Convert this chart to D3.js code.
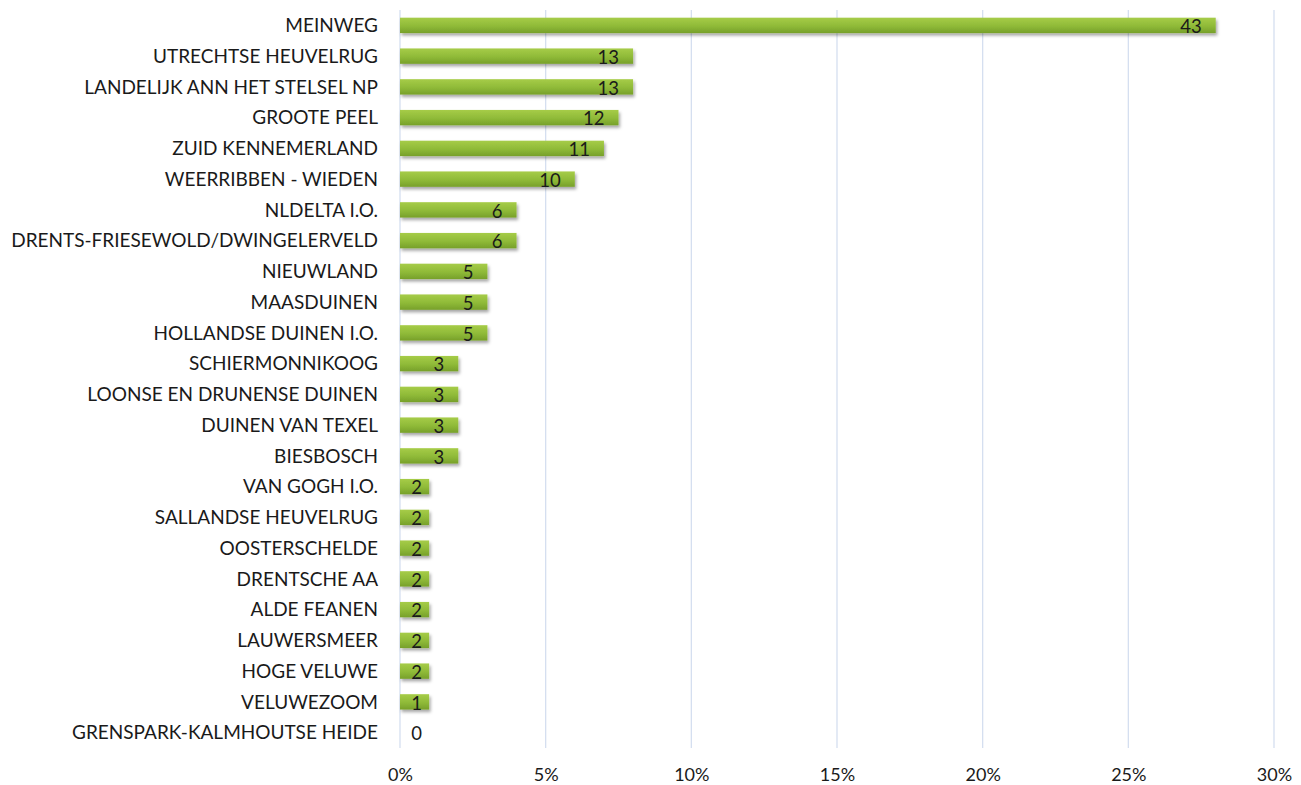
<!DOCTYPE html>
<html>
<head>
<meta charset="utf-8">
<script src="https://cdn.jsdelivr.net/npm/d3@7"></script>
<style>
  body { margin: 0; background: #fff; }
  text { font-family: Lato, "Open Sans", sans-serif; fill: #1a1a1a; }
</style>
</head>
<body>
<svg id="chart"></svg>
<script>
let parks = ["MEINWEG", "UTRECHTSE HEUVELRUG", "LANDELIJK ANN HET STELSEL NP", "GROOTE PEEL",
    "ZUID KENNEMERLAND", "WEERRIBBEN - WIEDEN", "NLDELTA I.O.", "DRENTS-FRIESEWOLD/DWINGELERVELD",
    "NIEUWLAND", "MAASDUINEN", "HOLLANDSE DUINEN I.O.", "SCHIERMONNIKOOG", "LOONSE EN DRUNENSE DUINEN",
    "DUINEN VAN TEXEL", "BIESBOSCH", "VAN GOGH I.O.", "SALLANDSE HEUVELRUG", "OOSTERSCHELDE",
    "DRENTSCHE AA", "ALDE FEANEN", "LAUWERSMEER", "HOGE VELUWE", "VELUWEZOOM", "GRENSPARK-KALMHOUTSE HEIDE"];
let counts = [43, 13, 13, 12, 11, 10, 6, 6, 5, 5, 5, 3, 3, 3, 3, 2, 2, 2, 2, 2, 2, 2, 1, 0];
let percents = [28, 8, 8, 7.5, 7, 6, 4, 4, 3, 3, 3, 2, 2, 2, 2, 1, 1, 1, 1, 1, 1, 1, 1, 0];
let xTicks = [0, 5, 10, 15, 20, 25, 30];

let width = 1301;
let height = 785;
let margin = {top: 10, right: 27, bottom: 37, left: 400};

let svg = d3.select('#chart').attr('width', width).attr('height', height);

let defs = svg.append('defs');
let grad = defs.append('linearGradient').attr('id', 'barGrad')
    .attr('x1', 0).attr('y1', 0).attr('x2', 0).attr('y2', 1);
grad.append('stop').attr('offset', '0%').attr('stop-color', '#a6cc48');
grad.append('stop').attr('offset', '55%').attr('stop-color', '#8fba38');
grad.append('stop').attr('offset', '100%').attr('stop-color', '#77a02a');

let shadow = defs.append('filter').attr('id', 'shadow')
    .attr('x', '-10%').attr('y', '-30%').attr('width', '130%').attr('height', '200%');
shadow.append('feDropShadow').attr('dx', 1.5).attr('dy', 2.5).attr('stdDeviation', 1.5)
    .attr('flood-color', '#000').attr('flood-opacity', 0.35);

let x = d3.scaleLinear().domain([0, 30]).range([margin.left, width - margin.right]);
let y = d3.scaleBand().domain(parks).range([margin.top, height - margin.bottom]).paddingInner(0.5).paddingOuter(0.25);

let rows = parks.map(function (p, i) {
    return {name: p, count: counts[i], pct: percents[i]};
});

// grid lines
svg.append('g').selectAll('line').data(xTicks).enter().append('line')
    .attr('x1', function (d) { return x(d); })
    .attr('x2', function (d) { return x(d); })
    .attr('y1', margin.top)
    .attr('y2', height - margin.bottom)
    .attr('stroke', '#d5dff0')
    .attr('stroke-width', 1.3);

// x axis labels
let xAxis = d3.axisBottom(x).tickValues(xTicks).tickSize(0).tickPadding(20)
    .tickFormat(function (d) { return d + '%'; });
let gx = svg.append('g').attr('transform', 'translate(0,' + (height - margin.bottom) + ')').call(xAxis);
gx.select('.domain').remove();
gx.selectAll('text').style('font-size', '18px').style('font-family', 'Lato, sans-serif').attr('fill', '#1a1a1a');

// y axis labels
let yAxis = d3.axisLeft(y).tickSize(0).tickPadding(22);
let gy = svg.append('g').attr('transform', 'translate(' + margin.left + ',0)').call(yAxis);
gy.select('.domain').remove();
gy.selectAll('text').style('font-size', '19px').style('font-family', 'Lato, sans-serif')
    .attr('fill', '#1a1a1a').attr('dy', '0.36em');

// bars
svg.append('g').selectAll('rect').data(rows.filter(function (d) { return d.pct > 0; })).enter().append('rect')
    .attr('x', x(0))
    .attr('y', function (d) { return y(d.name); })
    .attr('width', function (d) { return x(d.pct) - x(0); })
    .attr('height', y.bandwidth())
    .attr('fill', 'url(#barGrad)')
    .attr('filter', 'url(#shadow)');

// value labels
svg.append('g').selectAll('text').data(rows).enter().append('text')
    .attr('x', function (d) { return Math.max(x(d.pct) - 14, x(0) + 22); })
    .attr('y', function (d) { return y(d.name) + y.bandwidth() / 2; })
    .attr('dy', '0.42em')
    .attr('text-anchor', 'end')
    .style('font-size', '18.5px')
    .text(function (d) { return d.count; });
</script>
</body>
</html>
